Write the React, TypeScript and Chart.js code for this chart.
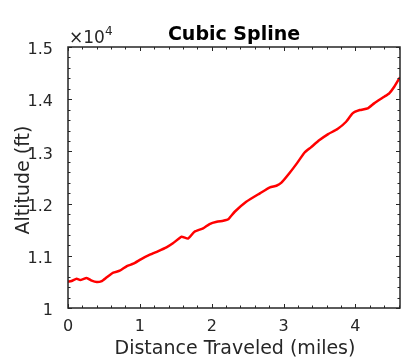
import React, { useEffect, useRef } from "react";
import { Chart, registerables } from "chart.js";

Chart.register(...registerables);

const distanceMiles = [
  0.0, 0.05, 0.12, 0.17, 0.26, 0.33, 0.4, 0.47, 0.54, 0.63, 0.72, 0.82, 0.91,
  1.02, 1.14, 1.25, 1.37, 1.46, 1.58, 1.67, 1.76, 1.88, 1.97, 2.07, 2.16, 2.23,
  2.32, 2.48, 2.67, 2.81, 2.9, 2.97, 3.08, 3.19, 3.29, 3.38, 3.5, 3.62, 3.75,
  3.87, 3.96, 4.06, 4.17, 4.26, 4.4, 4.47, 4.54, 4.62,
];
const altitudeFt = [
  10504, 10517, 10561, 10536, 10575, 10523, 10498, 10517, 10588, 10676, 10714,
  10804, 10848, 10938, 11021, 11086, 11162, 11239, 11365, 11330, 11461, 11526,
  11609, 11653, 11672, 11699, 11844, 12036, 12197, 12312, 12342, 12400, 12580,
  12780, 12974, 13077, 13217, 13332, 13428, 13568, 13729, 13792, 13824, 13920,
  14047, 14112, 14238, 14420,
];
const xTicks = [0, 1, 2, 3, 4];
const yTicks = [10000, 11000, 12000, 13000, 14000, 15000];
const xRange = [0, 4.62];
const yRange = [10000, 15000];
const titleText = "Cubic Spline";
const xLabel = "Distance Traveled (miles)";
const yLabel = "Altitude (ft)";

const FONT = "'DejaVu Sans', sans-serif";
const AX = "#262626";

const decorPlugin = {
  id: "decor",
  afterDraw(chart: any) {
    const { ctx, chartArea } = chart;
    const { left, right, top, bottom } = chartArea;
    const xs = chart.scales.x;
    const ys = chart.scales.y;
    ctx.save();
    ctx.strokeStyle = AX;
    ctx.lineWidth = 1.5;
    ctx.strokeRect(left, top, right - left, bottom - top);
    ctx.lineWidth = 1;
    for (let i = 0; i <= 25; i++) {
      const v = i * 0.2;
      if (v > xRange[1]) break;
      const major = i % 5 === 0;
      const len = major ? 4 : 2.5;
      const px = Math.round(xs.getPixelForValue(v)) + 0.5;
      ctx.beginPath();
      ctx.moveTo(px, bottom);
      ctx.lineTo(px, bottom - len);
      ctx.moveTo(px, top);
      ctx.lineTo(px, top + len);
      ctx.stroke();
    }
    for (let i = 0; i <= 25; i++) {
      const v = yRange[0] + i * 200;
      const major = i % 5 === 0;
      const len = major ? 4 : 2.5;
      const py = Math.round(ys.getPixelForValue(v)) + 0.5;
      ctx.beginPath();
      ctx.moveTo(left, py);
      ctx.lineTo(left + len, py);
      ctx.moveTo(right, py);
      ctx.lineTo(right - len, py);
      ctx.stroke();
    }
    ctx.fillStyle = "#000";
    ctx.font = `bold 19px ${FONT}`;
    ctx.textAlign = "center";
    ctx.textBaseline = "alphabetic";
    ctx.fillText(titleText, (left + right) / 2, 40);
    ctx.fillStyle = AX;
    ctx.font = `19px ${FONT}`;
    ctx.fillText(xLabel, (left + right) / 2 + 1, 354);
    ctx.save();
    ctx.translate(28.5, 180);
    ctx.rotate(-Math.PI / 2);
    ctx.fillText(yLabel, 0, 0);
    ctx.restore();
    ctx.textAlign = "left";
    ctx.font = `17px ${FONT}`;
    ctx.fillText("\u00d710", left + 1, 43);
    const w = ctx.measureText("\u00d710").width;
    ctx.font = `12px ${FONT}`;
    ctx.fillText("4", left + 1 + w, 35);
    ctx.restore();
  },
};

export default function App() {
  const ref = useRef<HTMLCanvasElement>(null);
  useEffect(() => {
    document.body.style.margin = "0";
    const chart = new Chart(ref.current as HTMLCanvasElement, {
      type: "line",
      data: {
        datasets: [
          {
            data: distanceMiles.map((d, i) => ({ x: d, y: altitudeFt[i] })),
            borderColor: "#ff0000",
            borderWidth: 2.5,
            pointRadius: 0,
            tension: 0.15,
            fill: false,
          },
        ],
      },
      options: {
        animation: false,
        responsive: false,
        devicePixelRatio: 1,
        layout: { padding: { top: 47, right: 1, left: 0, bottom: 0 } },
        plugins: {
          legend: { display: false },
          title: { display: false },
          tooltip: { enabled: false },
        },
        scales: {
          x: {
            type: "linear",
            min: xRange[0],
            max: xRange[1],
            afterBuildTicks: (s: any) => {
              s.ticks = xTicks.map((v) => ({ value: v }));
            },
            afterFit: (s: any) => {
              s.height = 53;
            },
            ticks: {
              font: { family: FONT, size: 16 },
              color: AX,
              padding: 1,
              maxRotation: 0,
              callback: (v: any) => String(v),
            },
            grid: { display: false },
            border: { display: false },
          },
          y: {
            type: "linear",
            min: yRange[0],
            max: yRange[1],
            afterBuildTicks: (s: any) => {
              s.ticks = yTicks.map((v) => ({ value: v }));
            },
            afterFit: (s: any) => {
              s.width = 68;
            },
            ticks: {
              font: { family: FONT, size: 16 },
              color: AX,
              padding: 7,
              labelOffset: 3,
              callback: (v: any) => String(Math.round(v / 100) / 100),
            },
            grid: { display: false },
            border: { display: false },
          },
        },
      },
      plugins: [decorPlugin],
    });
    return () => chart.destroy();
  }, []);
  return (
    <div style={{ position: "fixed", left: 0, top: 0, width: 401, height: 361, background: "#fff" }}>
      <canvas ref={ref} width={401} height={361} style={{ width: 401, height: 361 }} />
    </div>
  );
}
